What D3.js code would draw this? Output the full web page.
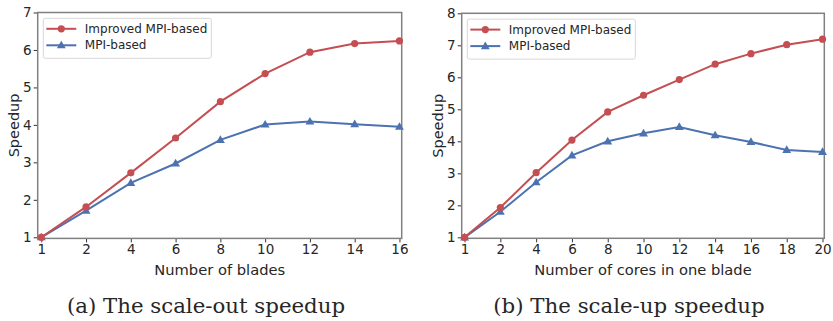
<!DOCTYPE html>
<html>
<head>
<meta charset="utf-8">
<script src="https://cdn.jsdelivr.net/npm/d3@7"></script>
<style>
  body { margin: 0; background: #fff; }
  svg { display: block; }
  .tick text { font-family: "DejaVu Sans", sans-serif; }
</style>
</head>
<body>
<div id="chart"></div>
<script>
// panel (a): scale-out
var bladesX = ["1", "2", "4", "6", "8", "10", "12", "14", "16"];
var bladesImproved = [1, 1.81, 2.72, 3.65, 4.62, 5.37, 5.94, 6.17, 6.24];
var bladesMpi = [1, 1.71, 2.45, 2.97, 3.6, 4.01, 4.09, 4.02, 3.95];
var bladesYTicks = [1, 2, 3, 4, 5, 6, 7];

// panel (b): scale-up
var coresX = ["1", "2", "4", "6", "8", "10", "12", "14", "16", "18", "20"];
var coresImproved = [1, 1.93, 3.02, 4.04, 4.92, 5.44, 5.93, 6.41, 6.74, 7.02, 7.19];
var coresMpi = [1, 1.8, 2.72, 3.56, 4.0, 4.25, 4.45, 4.19, 3.98, 3.73, 3.67];
var coresYTicks = [1, 2, 3, 4, 5, 6, 7, 8];

var seriesNames = ["Improved MPI-based", "MPI-based"];
var red = "#c44e52", blue = "#4c72b0";

var svg = d3.select("#chart").append("svg")
  .attr("width", 833)
  .attr("height", 321);

function drawPanel(cfg) {
  var g = svg.append("g");
  var n = cfg.cats.length;

  var x = d3.scaleLinear()
    .domain([-0.08, n - 1 + 0.05])
    .range([cfg.left, cfg.right]);
  var y = d3.scaleLinear()
    .domain([0.97, cfg.ymax])
    .range([cfg.bottom, cfg.top]);

  // axes
  var xAxis = g.append("g")
    .attr("transform", "translate(0," + cfg.bottom + ")")
    .call(d3.axisBottom(x).tickValues(d3.range(n)).tickFormat(function (i) { return cfg.cats[i]; })
      .tickSize(4).tickPadding(2).tickSizeOuter(0));
  var yAxis = g.append("g")
    .attr("transform", "translate(" + cfg.left + ",0)")
    .call(d3.axisLeft(y).tickValues(cfg.yticks).tickFormat(d3.format("d"))
      .tickSize(4).tickPadding(2).tickSizeOuter(0));
  [xAxis, yAxis].forEach(function (a) {
    a.select(".domain").remove();
    a.selectAll(".tick line").attr("stroke", "#333").attr("stroke-width", 1);
    a.selectAll(".tick text").attr("fill", "#262626").style("font-size", "13.5px");
  });

  // frame
  g.append("rect")
    .attr("x", cfg.left).attr("y", cfg.top)
    .attr("width", cfg.right - cfg.left).attr("height", cfg.bottom - cfg.top)
    .attr("fill", "none").attr("stroke", "#808080").attr("stroke-width", 1.5);

  var line = d3.line()
    .x(function (d, i) { return x(i); })
    .y(function (d) { return y(d); });

  // MPI-based first, improved on top
  g.append("path").datum(cfg.mpi)
    .attr("d", line).attr("fill", "none").attr("stroke", blue).attr("stroke-width", 2);
  g.selectAll(".tri").data(cfg.mpi).enter().append("path")
    .attr("class", "tri")
    .attr("d", d3.symbol().type(d3.symbolTriangle).size(34))
    .attr("transform", function (d, i) { return "translate(" + x(i) + "," + (y(d) + 0.5) + ")"; })
    .attr("fill", blue);

  g.append("path").datum(cfg.improved)
    .attr("d", line).attr("fill", "none").attr("stroke", red).attr("stroke-width", 2);
  g.selectAll(".dot").data(cfg.improved).enter().append("circle")
    .attr("class", "dot")
    .attr("cx", function (d, i) { return x(i); })
    .attr("cy", function (d) { return y(d); })
    .attr("r", 3.6)
    .attr("fill", red);

  // legend
  var lg = g.append("g").attr("transform", "translate(" + (cfg.left + 5.6) + "," + (cfg.top + 5.8) + ")");
  lg.append("rect")
    .attr("width", 168).attr("height", 40).attr("rx", 2)
    .attr("fill", "#fff").attr("stroke", "#d8d8d8").attr("stroke-width", 1);
  [[red, "circle"], [blue, "tri"]].forEach(function (s, k) {
    var yy = 10.5 + k * 16.5;
    lg.append("line").attr("x1", 3).attr("x2", 33).attr("y1", yy).attr("y2", yy)
      .attr("stroke", s[0]).attr("stroke-width", 2);
    if (s[1] === "circle") {
      lg.append("circle").attr("cx", 18).attr("cy", yy).attr("r", 3.6).attr("fill", s[0]);
    } else {
      lg.append("path").attr("d", d3.symbol().type(d3.symbolTriangle).size(34))
        .attr("transform", "translate(18," + (yy + 0.5) + ")").attr("fill", s[0]);
    }
    lg.append("text").attr("x", 41.5).attr("y", yy).attr("dy", "0.35em")
      .style("font-family", "DejaVu Sans, sans-serif").style("font-size", "12px")
      .attr("fill", "#262626").text(seriesNames[k]);
  });

  // axis labels
  g.append("text")
    .attr("x", (cfg.left + cfg.right) / 2).attr("y", cfg.bottom + 37)
    .attr("text-anchor", "middle")
    .style("font-family", "DejaVu Sans, sans-serif").style("font-size", "14.7px")
    .attr("fill", "#262626").text(cfg.xlabel);
  g.append("text")
    .attr("transform", "translate(" + (cfg.left - 23.5) + "," + ((cfg.top + cfg.bottom) / 2) + ") rotate(-90)")
    .attr("text-anchor", "middle").attr("dy", "0.35em")
    .style("font-family", "DejaVu Sans, sans-serif").style("font-size", "14.5px")
    .attr("fill", "#262626").text("Speedup");

  // caption
  g.append("text")
    .attr("x", cfg.captionX).attr("y", 313)
    .attr("text-anchor", "middle")
    .style("font-family", "DejaVu Serif, serif").style("font-size", "21.3px")
    .attr("fill", "#262626").text(cfg.caption);
}

drawPanel({
  cats: bladesX, improved: bladesImproved, mpi: bladesMpi, yticks: bladesYTicks, ymax: 7,
  left: 37.7, right: 401.7, top: 12.5, bottom: 238.4,
  xlabel: "Number of blades", caption: "(a) The scale-out speedup", captionX: 206
});
drawPanel({
  cats: coresX, improved: coresImproved, mpi: coresMpi, yticks: coresYTicks, ymax: 8,
  left: 461.7, right: 824.3, top: 13.3, bottom: 238.3,
  xlabel: "Number of cores in one blade", caption: "(b) The scale-up speedup", captionX: 629
});
</script>
</body>
</html>
